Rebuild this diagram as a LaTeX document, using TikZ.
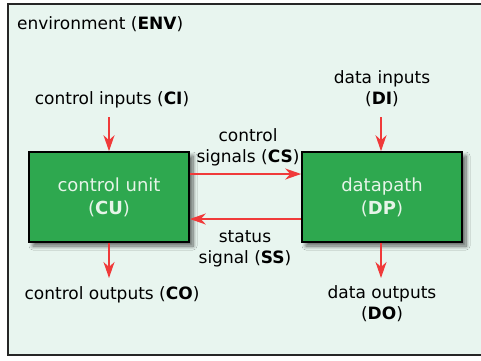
\documentclass[tikz,border=0pt]{standalone}
\usepackage{fontspec}
\setmainfont{DejaVu Sans}
\usetikzlibrary{arrows.meta,shadows.blur}
\definecolor{envbg}{HTML}{E8F5EF}
\definecolor{boxgreen}{HTML}{2EA84F}
\definecolor{boxtext}{HTML}{E6F4E8}
\definecolor{sigred}{HTML}{F03A3A}
\tikzset{
  unit/.style={draw=black, line width=1.6pt, fill=boxgreen, minimum width=160pt,
    minimum height=90pt, inner sep=0pt, align=center, text=boxtext,
    font=\fontsize{18}{23}\selectfont,
    blur shadow={shadow xshift=4pt, shadow yshift=-4pt, shadow blur radius=4pt,
      shadow blur steps=8, shadow opacity=60}},
  lbl/.style={align=center, font=\fontsize{17}{21}\selectfont, inner sep=0pt},
  sig/.style={draw=sigred, line width=1.8pt, -{Stealth[length=16pt,width=11pt,inset=5pt]}}
}
\begin{document}
\begin{tikzpicture}[x=1pt,y=1pt]
\useasboundingbox (0,0) rectangle (481,-360);
% environment frame
\path[fill=white] (0,0) rectangle (481,-360);
\draw[draw=black!85, line width=2pt, fill=envbg] (8,-4) rectangle (490,-355);
\node[anchor=base west, font=\fontsize{17}{21}\selectfont, inner sep=0pt] (env) at (17,-29) {environment (\textbf{ENV})};
% the two units
\node[unit] (cu) at (109,-197) {control unit\\(\textbf{CU})};
\node[unit] (dp) at (382,-197) {datapath\\(\textbf{DP})};
% external labels (base anchor = baseline of the last line)
\node[lbl, anchor=base] (ci) at (112,-104) {control inputs (\textbf{CI})};
\node[lbl, anchor=base] (di) at (382,-104) {data inputs\\(\textbf{DI})};
\node[lbl, anchor=base] (co) at (112,-299) {control outputs (\textbf{CO})};
\node[lbl, anchor=base] (do) at (382,-319) {data outputs\\(\textbf{DO})};
\node[lbl, anchor=base] (cs) at (248,-162) {control\\signals (\textbf{CS})};
\node[lbl, anchor=base] (ss) at (245,-263) {status\\signal (\textbf{SS})};
% arrow anchors
\coordinate (ciS) at (109,-117);
\coordinate (diS) at (381,-117);
\coordinate (coE) at (109,-278);
\coordinate (doE) at (381,-278);
% signals
\draw[sig] (ciS) -- (ciS |- cu.north);
\draw[sig] (diS) -- (diS |- dp.north);
\draw[sig] (cu.south -| coE) -- (coE);
\draw[sig] (dp.south -| doE) -- (doE);
\draw[sig] ([yshift=23pt]cu.east) -- ([yshift=23pt]dp.west);
\draw[sig] ([yshift=-22pt]dp.west) -- ([yshift=-22pt]cu.east);
\end{tikzpicture}
\end{document}
